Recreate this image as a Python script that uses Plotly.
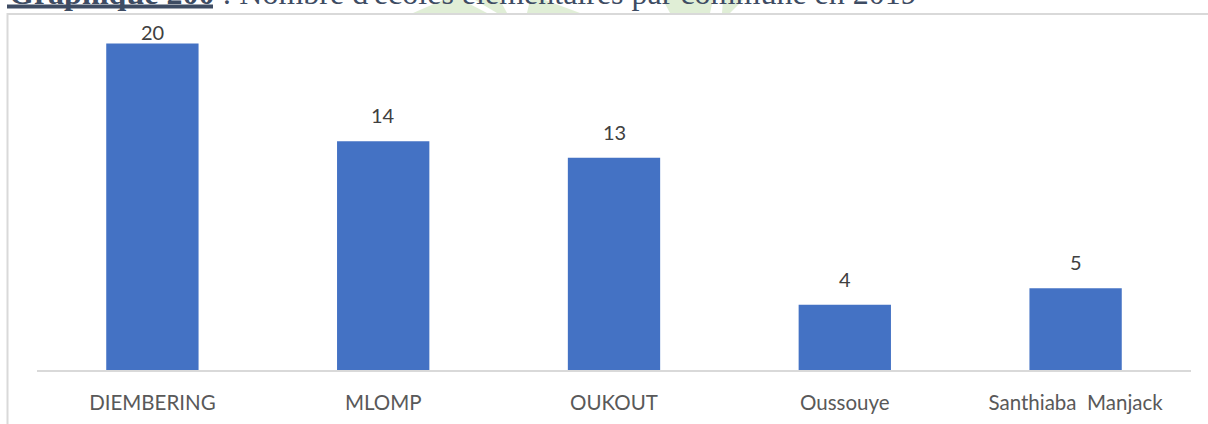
import plotly.graph_objects as go

# Nombre d'écoles élémentaires par commune (2019)
communes = ["DIEMBERING", "MLOMP", "OUKOUT", "Oussouye", "Santhiaba  Manjack"]
ecoles = [20, 14, 13, 4, 5]

W, H = 1208, 424
M_L, M_R, M_T, M_B = 37, 17, 13, 54
PLOT_W = W - M_L - M_R
PLOT_H = H - M_T - M_B
Y_MAX = 21.86

BAR_COLOR = "#4472C4"
GRID_GREY = "#D9D9D9"
TITLE_COLOR = "#3E4C63"
LABEL_FONT = "Lato, 'Open Sans', sans-serif"

LABEL_GAP = 17        # px between a bar top and its value label
LABEL_MIN_BOTTOM = 41  # labels never rise above this row (frame top)


def px_x(px):
    """Pixel column -> paper x."""
    return (px - M_L) / PLOT_W


def px_y(px):
    """Pixel row (from top) -> paper y."""
    return (H - M_B - px) / PLOT_H


fig = go.Figure(
    go.Bar(
        x=communes,
        y=ecoles,
        width=0.4,
        marker=dict(color=BAR_COLOR, line=dict(width=0)),
        hoverinfo="x+y",
    )
)

# value labels above each bar, pushed down when they would leave the frame
annotations = []
for c, v in zip(communes, ecoles):
    bar_top = H - M_B - v * PLOT_H / Y_MAX
    gap = min(LABEL_GAP, bar_top - LABEL_MIN_BOTTOM)
    annotations.append(
        dict(
            x=c, y=v, xref="x", yref="y",
            text=str(v), showarrow=False,
            yanchor="bottom", yshift=gap - 5,
            font=dict(family=LABEL_FONT, size=20, color="#404040"),
        )
    )

# document caption running above the chart frame
annotations.append(
    dict(
        x=px_x(7), y=px_y(-27), xref="paper", yref="paper",
        xanchor="left", yanchor="top", showarrow=False,
        text="<b>Graphique 200</b> : Nombre d'écoles élémentaires par commune en 2019",
        font=dict(family="'Liberation Serif', 'Times New Roman', serif", size=32, color=TITLE_COLOR),
    )
)

shapes = []

# faint green page watermark peeking out above the frame
WM = "rgba(198, 224, 180, 0.55)"
wm_polys = [
    [(413, 13), (443, 0), (462, 0), (487, 13)],
    [(475, 0), (500, 0), (507, 13), (497, 13)],
    [(527, 13), (530, 0), (545, 0), (580, 13)],
    [(663, 0), (713, 0), (710, 13), (670, 13)],
    [(723, 0), (743, 0), (730, 13), (722, 13)],
]
for poly in wm_polys:
    path = "M " + " L ".join(f"{px_x(a):.5f},{px_y(b):.5f}" for a, b in poly) + " Z"
    shapes.append(dict(type="path", xref="paper", yref="paper", path=path,
                       fillcolor=WM, line=dict(width=0), layer="below"))

# underline of the caption label
shapes.append(dict(type="line", xref="paper", yref="paper",
                   x0=px_x(7), x1=px_x(213), y0=px_y(6.5), y1=px_y(6.5),
                   line=dict(color=TITLE_COLOR, width=4)))

# chart frame (continues past the right and bottom edges)
shapes.append(dict(type="rect", xref="paper", yref="paper",
                   x0=px_x(7.5), x1=px_x(1230), y0=px_y(14), y1=px_y(450),
                   fillcolor="rgba(0,0,0,0)", line=dict(color=GRID_GREY, width=2),
                   layer="below"))

fig.update_layout(
    width=W, height=H,
    margin=dict(l=M_L, r=M_R, t=M_T, b=M_B, pad=0, autoexpand=False),
    paper_bgcolor="white",
    plot_bgcolor="rgba(0,0,0,0)",
    showlegend=False,
    bargap=0.6,
    annotations=annotations,
    shapes=shapes,
    xaxis=dict(
        automargin=False,
        showline=True, linecolor=GRID_GREY, linewidth=2,
        showgrid=False, zeroline=False,
        ticks="outside", ticklen=13, tickcolor="rgba(0,0,0,0)",
        tickfont=dict(family=LABEL_FONT, size=20.5, color="#595959"),
    ),
    yaxis=dict(
        automargin=False,
        range=[0, Y_MAX], visible=False, showgrid=False, zeroline=False,
    ),
)

fig.write_html("out.html")
